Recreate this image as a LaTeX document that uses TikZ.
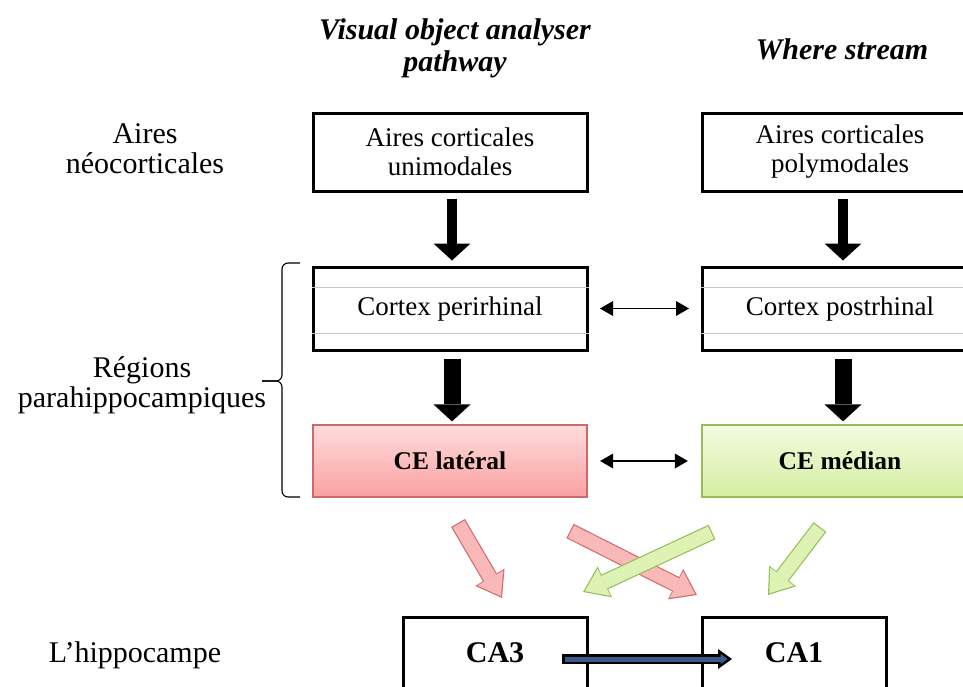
\documentclass[tikz,border=0pt]{standalone}
\usepackage{fontspec}
\setmainfont{Liberation Serif}
\usetikzlibrary{arrows.meta}

\definecolor{pinktop}{RGB}{255,220,220}
\definecolor{pinkbot}{RGB}{250,160,160}
\definecolor{pinkline}{RGB}{205,105,105}
\definecolor{lgrntop}{RGB}{244,251,224}
\definecolor{lgrnbot}{RGB}{212,238,162}
\definecolor{lgrnline}{RGB}{150,190,90}
\definecolor{redfill}{RGB}{250,185,185}
\definecolor{redline}{RGB}{210,108,108}
\definecolor{grnfill}{RGB}{222,242,180}
\definecolor{grnline}{RGB}{148,192,92}
\definecolor{hipblue}{RGB}{58,92,135}

\begin{document}
\begin{tikzpicture}[x=1pt, y=-1pt,
  font=\fontsize{27}{29}\selectfont,
  box/.style={draw, line width=3pt, fill=white, align=center, minimum height=78pt},
  lbox/.style={box, minimum width=274pt},
  rbox/.style={box, minimum width=276pt},
  cebox/.style={draw=#1line, line width=1.2pt, top color=#1top, bottom color=#1bot,
    minimum height=72pt, font=\fontsize{25.5}{29}\selectfont\bfseries},
  cabox/.style={box, minimum width=184pt, minimum height=82pt, text depth=10pt,
    font=\fontsize{30}{32}\selectfont\bfseries},
  title/.style={align=center, font=\fontsize{30}{32}\selectfont\bfseries\itshape},
  lab/.style={align=center, font=\fontsize{30}{30}\selectfont},
  blk/.style={line width=#1, -{Triangle[width=37pt, length=17pt, line width=0pt]}},
  twoway/.style={line width=1.5pt, {Triangle[width=15pt, length=13pt, line width=0pt]}-{Triangle[width=15pt, length=13pt, line width=0pt]}},
  fatout/.style={line width=16pt, -{Triangle[width=34pt, length=24pt, line width=0pt]}},
  fatin/.style={line width=13.6pt, shorten <=1.2pt, shorten >=2.1pt,
    -{Triangle[width=29.8pt, length=21pt, line width=0pt]}}]
  \clip (0,0) rectangle (963,686);

  % column titles
  \node[title] (vis) at (455,48) {Visual object analyser\\pathway};
  \node[title] (where) at (842,49) {Where stream};

  % row labels
  \node[lab] (neo) at (145,149) {Aires\\néocorticales};
  \node[lab] (para) at (142,385) {Régions\\parahippocampiques};
  \node[lab] (hip) at (135,655) {L’hippocampe};

  % boxes
  \node[lbox] (uni) at (450,152) {Aires corticales\\unimodales};
  \node[rbox] (poly) at (840,152) {Aires corticales\\polymodales};
  \node[lbox, minimum height=83pt] (peri) at (450,308.5) {Cortex perirhinal};
  \node[rbox, minimum height=83pt] (post) at (840,308.5) {Cortex postrhinal};
  \node[cebox=pink, minimum width=274pt] (lat) at (450,461) {CE latéral};
  \node[cebox=lgrn, minimum width=276pt] (med) at (840,461) {CE médian};
  \node[cabox] (ca3) at (495,658) {CA3};
  \node[cabox] (ca1) at (794,658) {CA1};

  % thin rules inside the cortex boxes
  \foreach \n in {peri, post} {
    \foreach \s in {21.5pt, -24.5pt}
      \draw[gray!45, line width=0.9pt] ([yshift=\s]\n.west) -- ([yshift=\s]\n.east);
  }

  % brace
  \draw[line width=1.1pt, rounded corners=6pt] (300,263) -- (282,263) -- (282,381) -- (262,381);
  \draw[line width=1.1pt, rounded corners=6pt] (262,381) -- (282,381) -- (282,497) -- (300,497);

  % black block arrows
  \draw[blk=10pt, shorten <=6pt, shorten >=5pt] ([xshift=2pt]uni.south) -- ([xshift=2pt]peri.north);
  \draw[blk=10pt, shorten <=6pt, shorten >=5pt] ([xshift=3pt]poly.south) -- ([xshift=3pt]post.north);
  \draw[blk=17pt, shorten <=7pt, shorten >=3pt] ([xshift=2pt]peri.south) -- ([xshift=2pt]lat.north);
  \draw[blk=17pt, shorten <=7pt, shorten >=3pt] ([xshift=3pt]post.south) -- ([xshift=3pt]med.north);

  % lateral links
  \draw[twoway, shorten <=11.5pt, shorten >=11.5pt] (peri) -- (post);
  \draw[twoway, shorten <=12.5pt, shorten >=13.5pt] (lat) -- (med);

  % entorhinal -> CA projections
  \coordinate (r1s) at (458,523);  \coordinate (r1e) at (502,598);
  \coordinate (r2s) at (570,531);  \coordinate (r2e) at (697,595);
  \coordinate (g1s) at (712,532);  \coordinate (g1e) at (583,592);
  \coordinate (g2s) at (820,527);  \coordinate (g2e) at (768,595);
  \foreach \a/\b/\f/\l in {r1s/r1e/redfill/redline, r2s/r2e/redfill/redline,
                           g1s/g1e/grnfill/grnline, g2s/g2e/grnfill/grnline} {
    \draw[fatout, \l] (\a) -- (\b);
    \draw[fatin, \f] (\a) -- (\b);
  }

  % CA3 -> CA1
  \draw[line width=10pt, -{Triangle[width=20pt, length=14pt, line width=0pt]}]
    ([xshift=67pt, yshift=-1pt]ca3.center) -- ([xshift=31.5pt, yshift=-1pt]ca1.west);
  \draw[hipblue, line width=5pt, shorten <=2.5pt, shorten >=4.3pt,
    -{Triangle[width=10pt, length=7pt, line width=0pt]}]
    ([xshift=67pt, yshift=-1pt]ca3.center) -- ([xshift=31.5pt, yshift=-1pt]ca1.west);
\end{tikzpicture}
\end{document}
